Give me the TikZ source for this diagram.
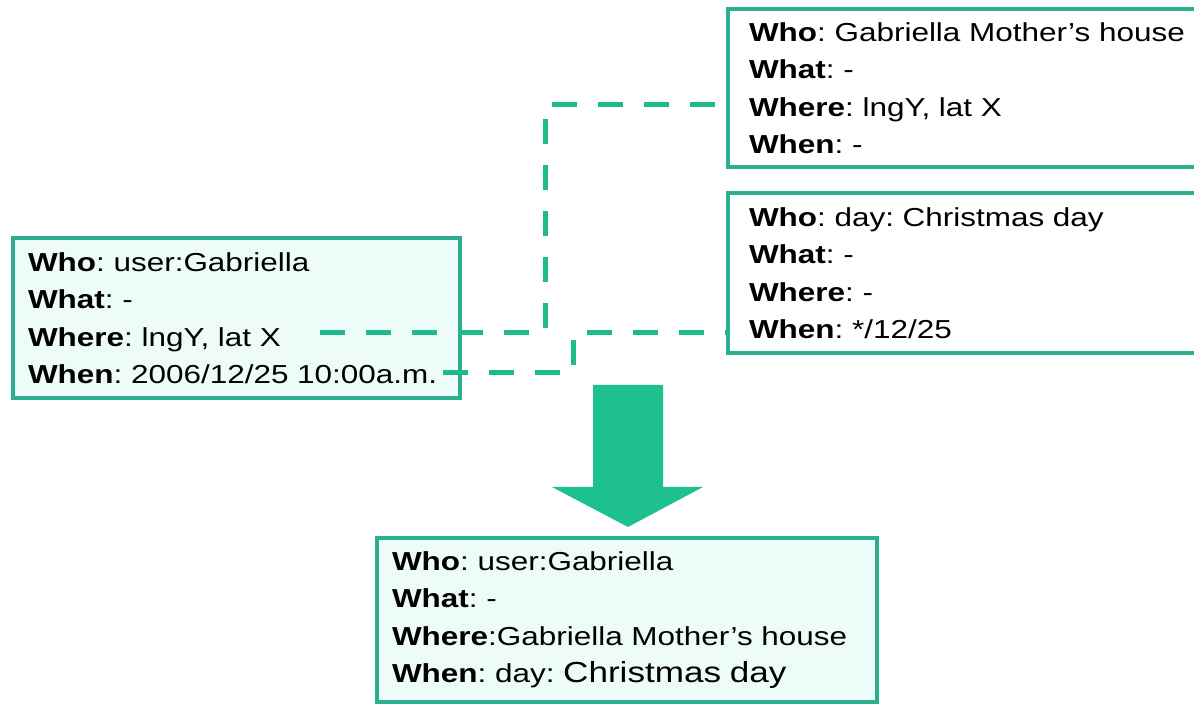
\documentclass[tikz,border=0pt]{standalone}
\usepackage{fontspec}
\setmainfont[FakeStretch=1.21]{Liberation Sans}
\frenchspacing

\begin{document}
\begin{tikzpicture}
    \definecolor{frameColour}{HTML}{2AB08F}
    \definecolor{linkColour}{HTML}{1EBA8C}
    \definecolor{arrowColour}{HTML}{1FC08F}
    \definecolor{fillColourA}{HTML}{EEFCF9}
    \definecolor{fillColourB}{HTML}{FFFFFF}
    \tikzset{
        infoBox/.style={draw=frameColour, line width=0.08cm, rectangle, anchor=north west,
            outer sep=0pt, inner ysep=0pt, align=left, minimum height=3.2cm,
            font=\fontsize{14.8pt}{21.3pt}\selectfont},
        linkLine/.style={draw=linkColour, line width=0.1cm, dash pattern=on 0.5cm off 0.42cm}
    }

    % Page size and clipping
    \useasboundingbox (0,0) rectangle (23.88,14.06);
    \clip (0,0) rectangle (23.88,14.06);

    % Source record
    \node[infoBox, fill=fillColourA, inner xsep=0.30cm, text width=8.34cm] (srcBox) at (0.26,9.30)
        {\textbf{Who}: user:Gabriella\\
         \textbf{What}: -\\
         \textbf{Where}: lngY, lat X\\
         \textbf{When}: 2006/12/25 10:00a.m.};

    % Place record
    \node[infoBox, fill=fillColourB, inner xsep=0.42cm, text width=9.0cm, minimum height=3.16cm] (placeBox) at (14.56,13.88)
        {\textbf{Who}: Gabriella Mother’s house\\
         \textbf{What}: -\\
         \textbf{Where}: lngY, lat X\\
         \textbf{When}: -};

    % Day record
    \node[infoBox, fill=fillColourB, inner xsep=0.42cm, text width=9.0cm] (dayBox) at (14.56,10.20)
        {\textbf{Who}: day: Christmas day\\
         \textbf{What}: -\\
         \textbf{Where}: -\\
         \textbf{When}: */12/25};

    % Result record
    \node[infoBox, fill=fillColourA, inner xsep=0.30cm, text width=9.4cm, minimum height=3.28cm] (resultBox) at (7.54,3.30)
        {\textbf{Who}: user:Gabriella\\
         \textbf{What}: -\\
         \textbf{Where}:Gabriella Mother’s house\\
         \textbf{When}: day: {\fontsize{16.5pt}{21.3pt}\selectfont Christmas day}};

    % Connector ends
    \coordinate (srcWhere) at (6.40,7.40);
    \coordinate (srcWhen) at (8.86,6.60);
    \coordinate (placeWhere) at ([yshift=-0.34cm]placeBox.west);
    \coordinate (dayWhen) at ([yshift=-1.20cm]dayBox.west);
    \coordinate (jogA) at (10.90,0);
    \coordinate (jogB) at (11.46,0);

    % Draw connectors
    \draw[linkLine] (srcWhere) -- (srcWhere -| jogA) -- (jogA |- placeWhere) -- (placeWhere);
    \draw[linkLine] (srcWhen) -- (srcWhen -| jogB) -- (jogB |- dayWhen) -- (dayWhen);

    % Merge arrow
    \fill[arrowColour] (11.86,6.36) -- (13.26,6.36) -- (13.26,4.32) -- (14.06,4.32)
        -- (12.56,3.52) -- (11.04,4.32) -- (11.86,4.32) -- cycle;

\end{tikzpicture}
\end{document}
